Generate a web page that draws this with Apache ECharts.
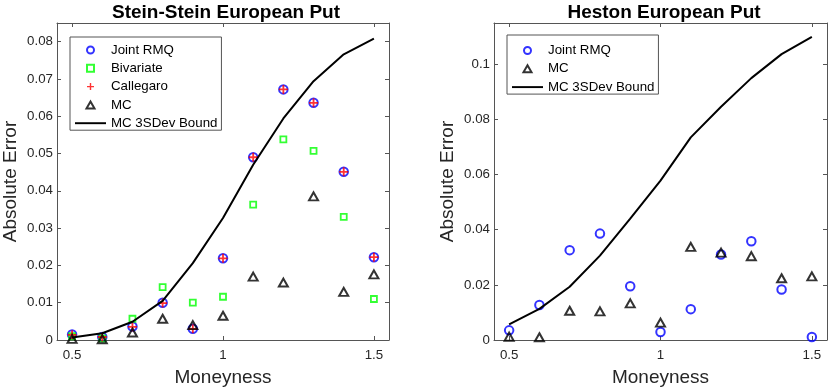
<!DOCTYPE html>
<html>
<head>
<meta charset="utf-8">
<script src="https://cdn.jsdelivr.net/npm/echarts@6/dist/echarts.min.js"></script>
<style>
  html, body { margin: 0; padding: 0; background: #fff; }
  #chart { width: 830px; height: 392px; }
</style>
</head>
<body>
<div id="chart"></div>
<script>
// moneyness grid
let moneyness = [0.5, 0.6, 0.7, 0.8, 0.9, 1.0, 1.1, 1.2, 1.3, 1.4, 1.5];

// Stein-Stein panel
let ssJoint     = [0.0015, 0.0008, 0.0036, 0.0100, 0.0030, 0.0219, 0.0490, 0.0672, 0.0636, 0.0451, 0.0222];
let ssBivariate = [0.0010, 0.0004, 0.0057, 0.0142, 0.0100, 0.0116, 0.0363, 0.0538, 0.0507, 0.0330, 0.0110];
let ssCallegaro = [0.0014, 0.0008, 0.0035, 0.0099, 0.0030, 0.0219, 0.0490, 0.0672, 0.0636, 0.0451, 0.0222];
let ssMC        = [0.0003, 0.0002, 0.0020, 0.0057, 0.0040, 0.0065, 0.0170, 0.0154, 0.0385, 0.0129, 0.0176];
let ssBound     = [0.0007, 0.0018, 0.0049, 0.0105, 0.0206, 0.0327, 0.0470, 0.0594, 0.0694, 0.0766, 0.0808];

// Heston panel
let hJoint = [0.0035, 0.0127, 0.0326, 0.0386, 0.0195, 0.0029, 0.0112, 0.0310, 0.0358, 0.0183, 0.0011];
let hMC    = [0.0012, 0.0010, 0.0106, 0.0104, 0.0133, 0.0063, 0.0338, 0.0317, 0.0304, 0.0224, 0.0231];
let hBound = [0.0057, 0.0113, 0.0193, 0.0306, 0.0440, 0.0578, 0.0735, 0.0846, 0.0950, 0.1037, 0.1100];

// tick positions
let xTicks = [0.5, 1, 1.5];
let ssYTicks = [0, 0.01, 0.02, 0.03, 0.04, 0.05, 0.06, 0.07, 0.08];
let hYTicks = [0, 0.02, 0.04, 0.06, 0.08, 0.1];

let chart = echarts.init(document.getElementById('chart'));

let ink = '#262626';
let axisGray = '#555555';
let font = 'Liberation Sans, Arial, Helvetica, sans-serif';

function pairs(ys) {
    return moneyness.map((x, i) => [x, ys[i]]);
}

function fmt(v) {
    return String(+Number(v).toFixed(3));
}

function xAxisFor(grid, top) {
    return {
        type: 'value', gridIndex: grid, min: 0.45, max: 1.55,
        position: top ? 'top' : 'bottom',
        name: top ? '' : 'Moneyness', nameLocation: 'middle', nameGap: 28,
        nameTextStyle: { fontSize: 19, color: ink, fontFamily: font },
        axisLine: { show: true, onZero: false, lineStyle: { color: axisGray, width: 1 } },
        axisTick: { show: true, inside: true, length: 4, customValues: xTicks, lineStyle: { color: axisGray, width: 1 } },
        axisLabel: { show: !top, customValues: xTicks, margin: 9, fontSize: 13.3, color: ink, fontFamily: font, formatter: fmt },
        splitLine: { show: false }
    };
}

function yAxisFor(grid, right, max, ticks) {
    return {
        type: 'value', gridIndex: grid, min: 0, max: max,
        position: right ? 'right' : 'left',
        name: right ? '' : 'Absolute Error', nameLocation: 'middle', nameGap: 37,
        nameTextStyle: { fontSize: 19, color: ink, fontFamily: font },
        axisLine: { show: true, onZero: false, lineStyle: { color: axisGray, width: 1 } },
        axisTick: { show: true, inside: true, length: 4, customValues: ticks, lineStyle: { color: axisGray, width: 1 } },
        axisLabel: { show: !right, customValues: ticks, margin: 4, fontSize: 13.3, color: ink, fontFamily: font, formatter: fmt },
        splitLine: { show: false }
    };
}

// marker shapes
let plusPath = 'path://M4,0H6V4H10V6H6V10H4V6H0V4H4Z';
let squarePath = 'path://M0,0H10V10H0Z';
let trianglePath = 'path://M5,0L10,8.7L0,8.7Z';
let linePath = 'path://M0,0H32V2H0Z';

function circleSeries(name, data, grid) {
    return {
        name: name, type: 'scatter', xAxisIndex: grid * 2, yAxisIndex: grid * 2,
        data: pairs(data), symbol: 'circle', symbolSize: 8.5, clip: false,
        itemStyle: { color: 'rgba(0,0,0,0)', borderColor: '#0000ff', borderWidth: 2 }
    };
}

function triangleSeries(name, data, grid) {
    return {
        name: name, type: 'scatter', xAxisIndex: grid * 2, yAxisIndex: grid * 2,
        data: pairs(data), symbol: 'triangle', symbolSize: [9, 8], clip: false,
        itemStyle: { color: 'rgba(0,0,0,0)', borderColor: '#000000', borderWidth: 2 }
    };
}

function boundSeries(name, data, grid) {
    return {
        name: name, type: 'line', xAxisIndex: grid * 2, yAxisIndex: grid * 2,
        data: pairs(data), symbol: 'none', showSymbol: false,
        lineStyle: { color: '#000000', width: 2 }, itemStyle: { color: '#000000' }
    };
}

function legendFor(left, top, items, pad) {
    return {
        orient: 'vertical', left: left, top: top,
        data: items, itemWidth: 31, itemHeight: 7, itemGap: 4.3, itemTextGap: 3,
        padding: pad, symbolKeepAspect: true,
        borderColor: axisGray, borderWidth: 1, backgroundColor: '#fff',
        selectedMode: false,
        textStyle: { fontSize: 13.3, color: '#000', fontFamily: font, lineHeight: 14 }
    };
}

let boundIcon = { name: 'MC 3SDev Bound', icon: linePath, itemStyle: { color: '#000', borderWidth: 0 } };

let option = {
    animation: false,
    backgroundColor: '#fff',
    title: [
        { text: 'Stein-Stein European Put', left: 221, top: -2, textAlign: 'center',
          textStyle: { fontSize: 19, fontWeight: 'bold', color: '#000', fontFamily: font } },
        { text: 'Heston European Put', left: 659, top: -2, textAlign: 'center',
          textStyle: { fontSize: 19, fontWeight: 'bold', color: '#000', fontFamily: font } }
    ],
    grid: [
        { left: 57, top: 23, width: 332, height: 317, outerBoundsMode: 'none' },
        { left: 494, top: 23, width: 333, height: 317, outerBoundsMode: 'none' }
    ],
    legend: [
        legendFor(70, 37, [
            { name: 'Joint RMQ', icon: 'circle' },
            { name: 'Bivariate', icon: squarePath },
            { name: 'Callegaro', icon: plusPath },
            { name: 'MC', icon: trianglePath },
            boundIcon
        ], [6, 4, 0, 5]),
        legendFor(507, 35, [
            { name: 'Joint RMQ', icon: 'circle' },
            { name: 'MC', icon: trianglePath },
            boundIcon
        ], [8.5, 4, 0, 5])
    ],
    xAxis: [xAxisFor(0, false), xAxisFor(0, true), xAxisFor(1, false), xAxisFor(1, true)],
    yAxis: [
        yAxisFor(0, false, 0.085, ssYTicks), yAxisFor(0, true, 0.085, ssYTicks),
        yAxisFor(1, false, 0.115, hYTicks), yAxisFor(1, true, 0.115, hYTicks)
    ],
    series: [
        circleSeries('Joint RMQ', ssJoint, 0),
        {
            name: 'Bivariate', type: 'scatter', xAxisIndex: 0, yAxisIndex: 0,
            data: pairs(ssBivariate), symbol: 'rect', symbolSize: 6, clip: false,
            itemStyle: { color: 'rgba(0,0,0,0)', borderColor: '#00ff00', borderWidth: 1.8 }
        },
        {
            name: 'Callegaro', type: 'scatter', xAxisIndex: 0, yAxisIndex: 0,
            data: pairs(ssCallegaro), symbol: plusPath, symbolSize: 9, clip: false,
            itemStyle: { color: '#ff0000' }
        },
        triangleSeries('MC', ssMC, 0),
        boundSeries('MC 3SDev Bound', ssBound, 0),
        circleSeries('Joint RMQ', hJoint, 1),
        triangleSeries('MC', hMC, 1),
        boundSeries('MC 3SDev Bound', hBound, 1)
    ]
};

chart.setOption(option);
</script>
</body>
</html>
